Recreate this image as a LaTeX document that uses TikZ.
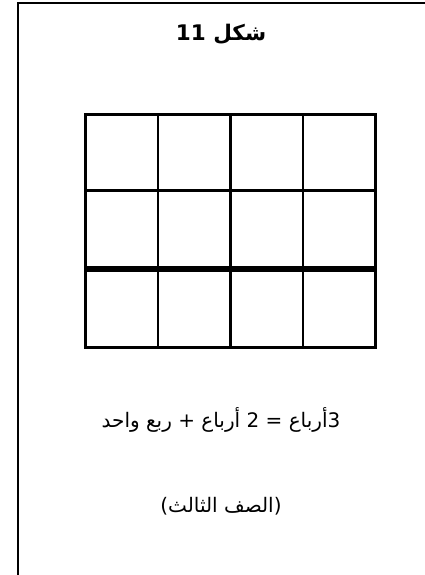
\documentclass[tikz,border=0pt]{standalone}
\usepackage{fontspec}
\newfontfamily\arabicfont[Script=Arabic]{DejaVu Sans}
\TeXXeTstate=1
\begin{document}
\begin{tikzpicture}[x=1pt,y=-1pt,
  frameline/.style={line width=2.4pt},
  gridline/.style={line width=2.6pt},
  thickline/.style={line width=6pt},
  titletext/.style={font=\arabicfont\bfseries\fontsize{21.5}{26}\selectfont, inner sep=0pt, anchor=base},
  bodytext/.style={font=\arabicfont\fontsize{20}{24}\selectfont, inner sep=0pt, anchor=base}]
\useasboundingbox (0,0) rectangle (424,575);
\fill[white] (0,0) rectangle (424,575);
% outer frame (extends past the right and bottom edges)
\draw[frameline] (18.2,600) -- (18.2,3.2) -- (450,3.2);
% grid
\draw[gridline] (85.5,114.5) rectangle (375.5,347.5);
\foreach \x in {158,230.5,303} \draw[gridline] (\x,114.5) -- (\x,347.5);
\draw[gridline] (85.5,190.5) -- (375.5,190.5);
\draw[thickline] (85.5,268.8) -- (375.5,268.8);
% texts
\node[titletext] (title) at (221,41) {\beginR شكل 11\endR};
\node[bodytext] (eq) at (221,427) {\beginR 3أرباع = 2 أرباع + ربع واحد\endR};
\node[bodytext] (grade) at (221,512) {\beginR (الصف الثالث)\endR};
\end{tikzpicture}
\end{document}
